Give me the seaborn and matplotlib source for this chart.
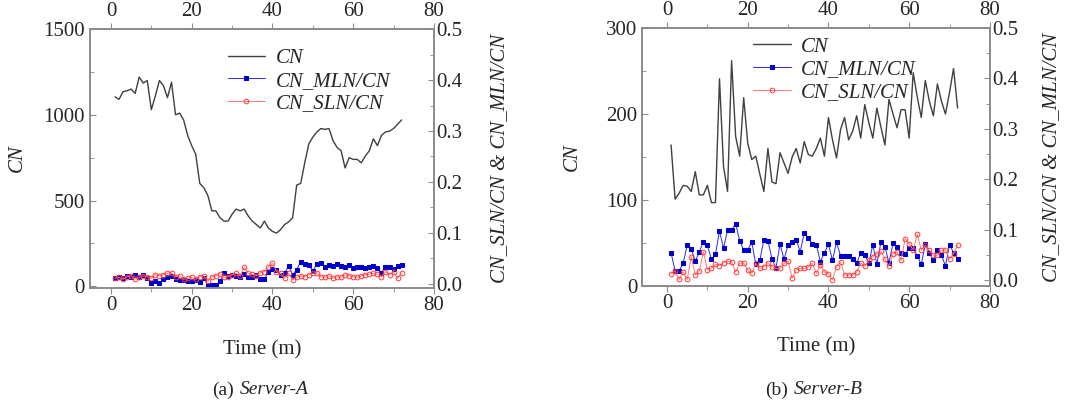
import numpy as np
import seaborn as sns
import matplotlib
matplotlib.use("Agg")
import matplotlib.pyplot as plt
from matplotlib.ticker import MultipleLocator

# time axis (minutes)
time = list(range(1, 73))

# Server-A
cn_a = [1105, 1090, 1135, 1140, 1150, 1125, 1220, 1185, 1200, 1030,
        1110, 1200, 1170, 1100, 1190, 1000, 1010, 970, 880, 820,
        770, 600, 575, 530, 440, 440, 400, 380, 380, 420,
        450, 440, 450, 410, 380, 360, 340, 380, 340, 320,
        310, 330, 360, 375, 400, 590, 600, 720, 830, 870,
        900, 920, 915, 920, 850, 810, 790, 690, 750, 740,
        740, 720, 760, 790, 860, 820, 880, 900, 905, 920,
        945, 970]
mln_a = [0.012, 0.014, 0.011, 0.016, 0.014, 0.018, 0.013, 0.018, 0.011, 0.001,
         0.005, 0.001, 0.009, 0.014, 0.016, 0.009, 0.007, 0.008, 0.005, 0.005,
         0.008, 0.003, 0.012, -0.002, -0.003, -0.002, 0.005, 0.021, 0.016, 0.018,
         0.016, 0.014, 0.019, 0.013, 0.014, 0.018, 0.009, 0.009, 0.024, 0.029,
         0.028, 0.018, 0.021, 0.035, 0.018, 0.028, 0.044, 0.039, 0.037, 0.026,
         0.039, 0.041, 0.033, 0.037, 0.035, 0.039, 0.035, 0.033, 0.037, 0.031,
         0.033, 0.034, 0.031, 0.034, 0.035, 0.031, 0.022, 0.034, 0.034, 0.029,
         0.035, 0.037]
sln_a = [0.011, 0.013, 0.009, 0.014, 0.016, 0.009, 0.013, 0.016, 0.014, 0.011,
         0.018, 0.016, 0.018, 0.021, 0.022, 0.014, 0.016, 0.009, 0.011, 0.013,
         0.009, 0.014, 0.016, 0.005, 0.014, 0.016, 0.020, 0.013, 0.014, 0.018,
         0.021, 0.016, 0.033, 0.021, 0.019, 0.016, 0.022, 0.024, 0.033, 0.041,
         0.024, 0.021, 0.011, 0.021, 0.008, 0.013, 0.016, 0.014, 0.018, 0.021,
         0.022, 0.014, 0.013, 0.016, 0.011, 0.014, 0.013, 0.018, 0.016, 0.014,
         0.013, 0.016, 0.018, 0.019, 0.021, 0.019, 0.014, 0.024, 0.018, 0.024,
         0.011, 0.021]

# Server-B
cn_b = [164, 101, 108, 117, 116, 110, 133, 106, 106, 117,
        97, 97, 241, 139, 110, 262, 174, 151, 219, 166,
        147, 151, 130, 110, 160, 121, 119, 155, 143, 131,
        150, 160, 143, 168, 153, 151, 160, 172, 151, 196,
        170, 149, 182, 196, 170, 180, 198, 172, 211, 190,
        172, 207, 185, 164, 217, 200, 184, 205, 205, 172,
        248, 220, 196, 239, 215, 198, 235, 215, 200, 225,
        253, 207]
mln_b = [0.054, 0.018, 0.018, 0.034, 0.069, 0.062, 0.037, 0.056, 0.075, 0.069,
         0.041, 0.051, 0.097, 0.063, 0.099, 0.099, 0.112, 0.078, 0.059, 0.060,
         0.075, 0.031, 0.039, 0.080, 0.078, 0.042, 0.024, 0.071, 0.041, 0.070,
         0.075, 0.080, 0.056, 0.093, 0.083, 0.072, 0.070, 0.036, 0.054, 0.071,
         0.039, 0.075, 0.048, 0.047, 0.047, 0.041, 0.033, 0.054, 0.050, 0.033,
         0.070, 0.031, 0.075, 0.066, 0.034, 0.073, 0.065, 0.054, 0.052, 0.063,
         0.063, 0.048, 0.031, 0.071, 0.054, 0.039, 0.060, 0.050, 0.028, 0.070,
         0.054, 0.042]
sln_b = [0.012, 0.018, 0.001, 0.016, 0.001, 0.046, 0.010, 0.018, 0.056, 0.020,
         0.023, 0.031, 0.028, 0.034, 0.037, 0.036, 0.016, 0.033, 0.034, 0.020,
         0.013, 0.033, 0.023, 0.026, 0.034, 0.026, 0.023, 0.023, 0.033, 0.037,
         0.003, 0.020, 0.023, 0.023, 0.026, 0.033, 0.013, 0.030, 0.016, 0.012,
         0.000, 0.026, 0.036, 0.010, 0.010, 0.010, 0.016, 0.033, 0.027, 0.039,
         0.046, 0.051, 0.057, 0.042, 0.027, 0.051, 0.056, 0.039, 0.082, 0.072,
         0.060, 0.091, 0.059, 0.069, 0.059, 0.049, 0.049, 0.059, 0.060, 0.042,
         0.052, 0.069]

sns.set_style("ticks")
plt.rcParams['font.family'] = ['Liberation Serif', 'DejaVu Serif']
plt.rcParams['font.size'] = 15

fig = plt.figure(figsize=(10.67, 4.04), dpi=100)

panels = [
    dict(rect=[0.0843, 0.2871, 0.3224, 0.641], cn=cn_a, mln=mln_a, sln=sln_a,
         xlim=(-5.2, 80), ylim=(-10, 1500), ymaj=500, ymin=250,
         y2lim=(-0.008, 0.5), leg=(0.40, 0.925), lab_l=-0.182, lab_r=1.162,
         tag="(a)", name="Server-A"),
    dict(rect=[0.6017, 0.292, 0.326, 0.6386], cn=cn_b, mln=mln_b, sln=sln_b,
         xlim=(-6.2, 80), ylim=(0, 300), ymaj=100, ymin=50,
         y2lim=(-0.012, 0.5), leg=(0.32, 0.965), lab_l=-0.173, lab_r=1.15,
         tag="(b)", name="Server-B"),
]

spine_col = "#8c8c8c"
fs = 15

for p in panels:
    ax = fig.add_axes(p["rect"])
    ax2 = ax.twinx()

    sns.lineplot(x=time, y=p["cn"], ax=ax, color="#404040", lw=1.0)
    sns.lineplot(x=time, y=p["mln"], ax=ax2, color="#2a2aee", lw=0.7,
                 marker="s", markersize=3.2, markeredgecolor="#0000cc",
                 markerfacecolor="#0000cc")
    sns.lineplot(x=time, y=p["sln"], ax=ax2, color="#ff7a7a", lw=0.7,
                 marker="o", markersize=3.4, markerfacecolor="none",
                 markeredgecolor="#ff3a3a", markeredgewidth=0.7)

    ax.set_xlim(*p["xlim"])
    ax.set_ylim(*p["ylim"])
    ax2.set_ylim(*p["y2lim"])

    ax.xaxis.set_major_locator(MultipleLocator(20))
    ax.xaxis.set_minor_locator(MultipleLocator(10))
    ax.yaxis.set_major_locator(MultipleLocator(p["ymaj"]))
    ax.yaxis.set_minor_locator(MultipleLocator(p["ymin"]))
    ax2.yaxis.set_major_locator(MultipleLocator(0.1))
    ax2.yaxis.set_minor_locator(MultipleLocator(0.05))
    ax2.yaxis.set_major_formatter(matplotlib.ticker.FormatStrFormatter("%.1f"))

    ax.tick_params(axis="x", which="both", top=True, labeltop=True,
                   direction="out", color=spine_col, labelsize=fs, pad=2)
    ax.tick_params(axis="y", which="both", direction="in", color=spine_col,
                   labelsize=fs)
    ax.tick_params(which="major", length=4)
    ax.tick_params(which="minor", length=3)
    ax2.tick_params(axis="y", which="both", direction="in", color=spine_col,
                    labelsize=fs, pad=2)
    ax2.tick_params(which="major", length=4)
    ax2.tick_params(which="minor", length=3)

    for a in (ax, ax2):
        for s in a.spines.values():
            s.set_visible(True)
            s.set_color(spine_col)
            s.set_linewidth(1.3)

    ax.set_xlabel("Time (m)", fontsize=fs)
    ax.xaxis.set_label_coords(0.5, -0.2)
    ax.set_ylabel("CN", fontsize=fs, style="italic")
    ax.yaxis.set_label_coords(p["lab_l"], 0.5)
    ax2.set_ylabel("CN_SLN/CN & CN_MLN/CN", fontsize=fs, style="italic")
    ax2.yaxis.set_label_coords(p["lab_r"], 0.5)

    h1 = ax.get_lines()[0]
    h2, h3 = ax2.get_lines()[:2]
    if ax.get_legend() is not None:
        ax.get_legend().remove()
    ax2.legend([h1, h2, h3], ["CN", "CN_MLN/CN", "CN_SLN/CN"],
               loc="upper left", bbox_to_anchor=p["leg"], frameon=False,
               handlelength=1.8, handletextpad=0.5, labelspacing=0.15,
               borderpad=0, borderaxespad=0, numpoints=1,
               prop={"style": "italic", "size": fs})

    # caption under the panel
    r = p["rect"]
    xc = r[0] + r[2] / 2
    fig.text(xc - 0.026, 0.035, p["tag"], ha="right", va="center", fontsize=14)
    fig.text(xc - 0.021, 0.035, p["name"], ha="left", va="center",
             fontsize=14, style="italic")

fig.savefig("out.png", dpi=100)
